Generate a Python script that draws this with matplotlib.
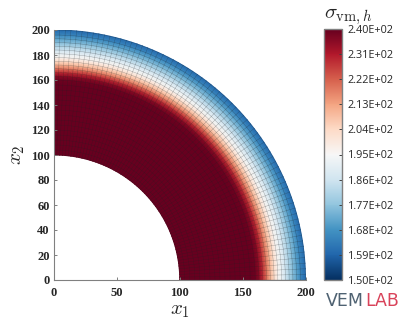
import numpy as np
import matplotlib
matplotlib.use("Agg")
import matplotlib.pyplot as plt

# von Mises stress per mesh ring (inner radius to outer)
ring_radii = [100, 104, 108, 112, 116, 120, 124, 128, 132, 136, 140, 144, 148, 152, 156, 160,
              163, 166, 169, 172, 175, 178, 181, 184, 187, 190, 193, 196, 200]
ring_stress = [240, 240, 240, 240, 240, 240, 240, 240, 240, 240, 240, 240, 240, 240, 240, 239,
               236, 229, 220, 211, 204, 197, 192, 186, 181, 176, 171, 166, 160]
x_ticks = [0, 50, 100, 150, 200]
y_ticks = [0, 20, 40, 60, 80, 100, 120, 140, 160, 180, 200]
cbar_ticks = [150, 159, 168, 177, 186, 195, 204, 213, 222, 231, 240]
cbar_labels = ["1.50E+02", "1.59E+02", "1.68E+02", "1.77E+02", "1.86E+02", "1.95E+02",
               "2.04E+02", "2.13E+02", "2.22E+02", "2.31E+02", "2.40E+02"]

W, H = 407, 330
GREY = "#808080"

plt.rcParams["mathtext.fontset"] = "cm"
fig = plt.figure(figsize=(W / 100, H / 100), dpi=100)
ax = fig.add_axes([54 / W, (H - 280) / H, 251.5 / W, 250 / H])

# quarter annulus mesh
theta = np.linspace(0, np.pi / 2, 71)
r = np.array(ring_radii, dtype=float)
tt, rr = np.meshgrid(theta, r)
xx = rr * np.cos(tt)
yy = rr * np.sin(tt)
zz = np.tile(np.array(ring_stress, dtype=float)[:, None], (1, len(theta)))
mesh = ax.pcolormesh(xx, yy, zz, cmap="RdBu_r", vmin=150, vmax=240, shading="gouraud",
                     rasterized=True)

# mesh lines
ax.plot(xx, yy, color="#202020", lw=0.3, alpha=0.4)
ax.plot(xx.T, yy.T, color="#202020", lw=0.3, alpha=0.4)

ax.set_xlim(0, 200)
ax.set_ylim(0, 200)
ax.set_xticks(x_ticks)
ax.set_yticks(y_ticks)
ax.tick_params(direction="in", length=2.5, width=0.7, color=GREY)
ax.tick_params(axis="x", pad=5)
ax.tick_params(axis="y", pad=3)
for lab in ax.get_xticklabels() + ax.get_yticklabels():
    lab.set_family("Liberation Serif")
    lab.set_weight("bold")
    lab.set_fontsize(9)
    lab.set_color("#262626")
ax.spines["top"].set_visible(False)
ax.spines["right"].set_visible(False)
ax.spines["left"].set_color(GREY)
ax.spines["bottom"].set_color(GREY)
ax.set_xlabel(r"$x_1$", fontsize=15, labelpad=1, color="#262626")
ax.set_ylabel(r"$x_2$", fontsize=15, labelpad=3, color="#262626")

# colorbar
cax = fig.add_axes([324 / W, (H - 280) / H, 18 / W, 251 / H])
cb = fig.colorbar(mesh, cax=cax, ticks=cbar_ticks)
cb.ax.set_yticklabels(cbar_labels, family="Open Sans", fontsize=7.8, color="#262626")
cb.ax.tick_params(direction="in", length=2, width=0.7, color="#404040", pad=4)
cb.outline.set_edgecolor(GREY)
cb.outline.set_linewidth(1)
fig.text(324 / W, (H - 18) / H, r"$\sigma_{\mathrm{vm},h}$", fontsize=15, color="#262626",
         va="baseline", ha="left")

# logo
fig.text(326 / W, (H - 306) / H, "VEM", family="DejaVu Sans", fontsize=12.5, color="#4f6272",
         va="baseline", ha="left")
fig.text(365 / W, (H - 306) / H, "LAB", family="DejaVu Sans", fontsize=12.5, color="#d9435a",
         va="baseline", ha="left")

fig.savefig("out.png", dpi=100)
